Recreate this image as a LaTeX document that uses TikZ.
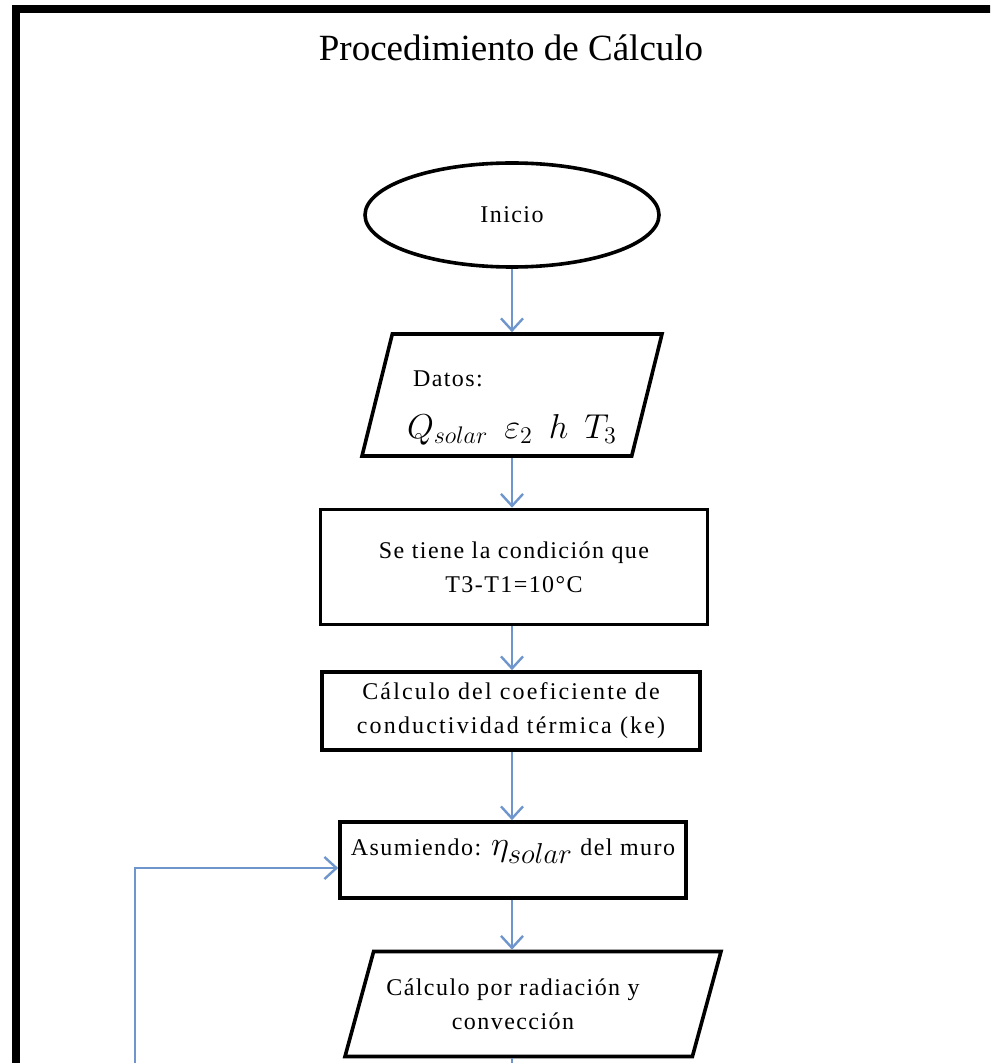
\documentclass[tikz,border=0pt]{standalone}
\usepackage{fontspec}
\setmainfont{Liberation Serif}
\usetikzlibrary{positioning,arrows.meta,shapes.geometric}
\definecolor{flowblue}{RGB}{110,150,205}
\tikzset{
  frame/.style={line width=3.6pt},
  boxfont/.style={font=\fontsize{12}{17}\selectfont\addfontfeature{LetterSpace=6}},
  term/.style={ellipse,draw,line width=1.8pt,minimum width=147pt,minimum height=52pt,boxfont},
  io/.style={trapezium,trapezium left angle=66,trapezium right angle=114,trapezium stretches body,draw,line width=1.8pt,boxfont},
  proc/.style={rectangle,draw,line width=1.8pt,align=center,boxfont},
  flow/.style={flowblue,line width=1.2pt,-{Straight Barb[length=6pt,width=11pt]}},
  stub/.style={flowblue,line width=1.2pt}
}
\begin{document}
\begin{tikzpicture}[x=0.5pt,y=-0.5pt]
  \useasboundingbox (0,0) rectangle (990,1063);
  \clip (0,0) rectangle (990,1063);
  \draw[frame] (16,1080) -- (16,9) -- (1000,9);
  \node[font=\fontsize{18.5}{22}\selectfont] (title) at (511,48) {Procedimiento de Cálculo};
  % chart
  \node[term] (inicio) at (512,215) {Inicio};
  \node[io,trapezium left angle=75,trapezium right angle=105,minimum width=150pt,minimum height=61pt,align=left] (datos) at (512,395)
    {\rule{0pt}{20.5pt}\hspace*{3pt}Datos:\\[9pt] {\fontsize{18}{22}\selectfont$Q_{solar}\hspace{8pt}\varepsilon_2\hspace{8pt}h\hspace{8pt}T_3$}};
  \node[proc,minimum width=193.5pt,minimum height=57.5pt] (cond) at (514,567) {Se tiene la condición que\\T3-T1=10°C};
  \node[proc,minimum width=189pt,minimum height=39pt,font=\fontsize{12}{17}\selectfont\addfontfeature{LetterSpace=9}] (coef) at (511,711)
    {Cálculo del coeficiente de\\conductividad térmica (ke)};
  \node[proc,minimum width=173pt,minimum height=38pt,text depth=13pt] (asum) at (513,860)
    {Asumiendo: {\fontsize{19}{22}\selectfont$\eta_{solar}$} del muro};
  \node[io,minimum width=188pt,minimum height=52.5pt,align=center] (calc) at (533,1004)
    {Cálculo por radiación y\hspace*{20pt}\\convección\hspace*{20pt}};
  % arrows
  \draw[flow] (inicio.south) -- (inicio.south |- datos.north);
  \draw[flow] (inicio.south |- datos.south) -- (inicio.south |- cond.north);
  \draw[flow] (inicio.south |- cond.south) -- (inicio.south |- coef.north);
  \draw[flow] (inicio.south |- coef.south) -- (inicio.south |- asum.north);
  \draw[flow] (inicio.south |- asum.south) -- (inicio.south |- calc.north);
  \coordinate (cut) at (512,1075);
  \draw[stub] (inicio.south |- calc.south) -- (cut);
  \coordinate (loopfoot) at (135,1075);
  \draw[flow] (loopfoot) |- ([yshift=-4pt]asum.west);
\end{tikzpicture}
\end{document}
